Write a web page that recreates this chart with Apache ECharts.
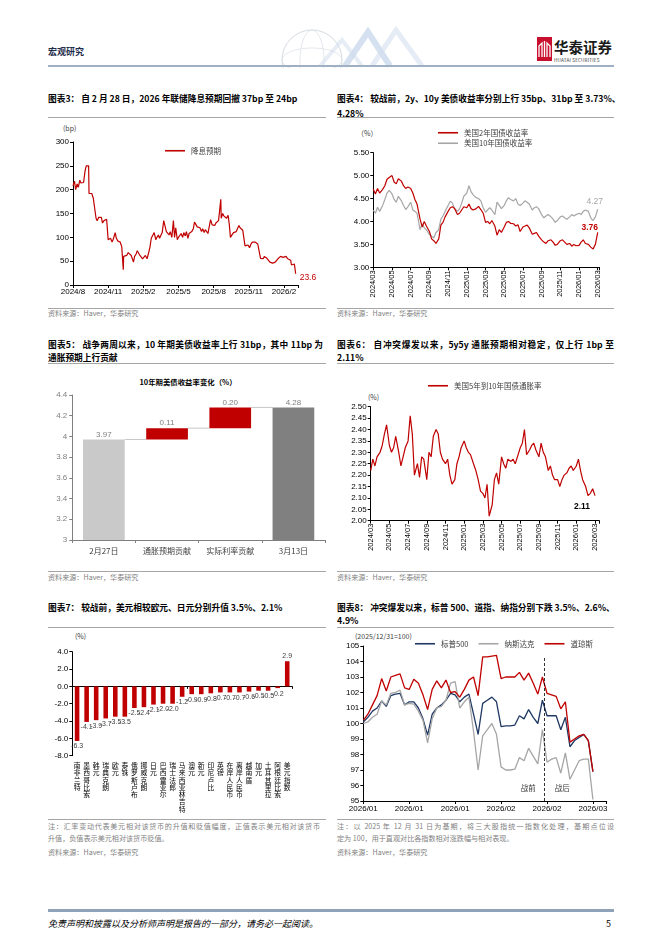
<!DOCTYPE html>
<html><head><meta charset="utf-8">
<script src="https://cdn.jsdelivr.net/npm/echarts@6/dist/echarts.min.js"></script>
<style>
html,body{margin:0;padding:0;background:#fff;}
body{width:662px;height:936px;position:relative;overflow:hidden;font-family:"Noto Sans CJK SC","Liberation Sans",sans-serif;}
.t{position:absolute;white-space:nowrap;line-height:13px;}
.ti{font-size:8.7px;font-weight:bold;color:#000;}
.j{text-align:justify;text-align-last:justify;}
.src{font-size:7.1px;color:#7f7f7f;line-height:10px;}
.unit{font-size:7px;color:#404040;line-height:10px;}
.hr{position:absolute;height:0;border-top:1px solid #a6a6a6;}
.c{position:absolute;}
</style></head><body>

<!-- header -->
<div class="t" style="left:48px;top:45px;font-size:9px;font-weight:bold;color:#1f2d4d;">宏观研究</div>
<svg style="position:absolute;left:250px;top:26px" width="200" height="42">
  <circle cx="62" cy="34" r="30" fill="none" stroke="#d5dbe2" stroke-width="1"/>
  <ellipse cx="62" cy="34" rx="30" ry="12" fill="none" stroke="#dde2e8" stroke-width="0.8"/>
  <ellipse cx="62" cy="34" rx="12" ry="30" fill="none" stroke="#dde2e8" stroke-width="0.8"/>
  <polyline points="95,40 118,6 140,40" fill="none" stroke="#b9cde6" stroke-width="6" opacity="0.6"/>
  <polyline points="122,40 146,4 172,40" fill="none" stroke="#d3e0ef" stroke-width="5" opacity="0.6"/>
  <polyline points="70,40 92,14 112,40" fill="none" stroke="#cfdcec" stroke-width="4" opacity="0.5"/>
</svg>
<svg style="position:absolute;left:537px;top:37px" width="16" height="25">
  <rect x="0" y="0" width="15" height="24" fill="#c8102e"/>
  <path d="M2 20 L2 9 L5 6 L5 20 M7.5 20 L7.5 4 M10 20 L10 6 L13 9 L13 20" stroke="#fff" stroke-width="1.3" fill="none"/>
</svg>
<div class="t" style="left:554px;top:38px;font-size:14.5px;font-weight:bold;color:#1a1a1a;line-height:18px;">华泰证券</div>
<div class="t" style="left:554px;top:57px;font-size:4.6px;color:#333;line-height:7px;letter-spacing:0.2px;">HUATAI SECURITIES</div>
<div class="hr" style="left:48px;width:566px;top:65px;border-top:2px solid #9fb0c3;"></div>

<!-- titles row 1 -->
<div class="t ti" style="left:48px;top:91.5px;">图表3： 自 2 月 28 日，2026 年联储降息预期回撤 37bp 至 24bp</div>
<div class="t ti j" style="left:337px;top:91.5px;width:277px;">图表4： 较战前，2y、10y 美债收益率分别上行 35bp、31bp 至 3.73%、</div>
<div class="t ti" style="left:337px;top:106.5px;">4.28%</div>
<div class="hr" style="left:48px;width:278px;top:117px;"></div>
<div class="hr" style="left:337px;width:277px;top:117px;"></div>

<div class="t unit" style="left:63px;top:123px;">(bp)</div>
<div class="t unit" style="left:357px;top:128px;">（%）</div>

<div class="hr" style="left:48px;width:278px;top:308px;"></div>
<div class="hr" style="left:337px;width:277px;top:308px;"></div>
<div class="t src" style="left:48px;top:308px;">资料来源：Haver，华泰研究</div>
<div class="t src" style="left:337px;top:308px;">资料来源：Haver，华泰研究</div>

<!-- titles row 2 -->
<div class="t ti j" style="left:48px;top:337.5px;width:275px;">图表5： 战争两周以来，10 年期美债收益率上行 31bp，其中 11bp 为</div>
<div class="t ti" style="left:48px;top:350.5px;">通胀预期上行贡献</div>
<div class="t ti j" style="left:337px;top:337.5px;width:277px;">图表6： 自冲突爆发以来，5y5y 通胀预期相对稳定，仅上行 1bp 至</div>
<div class="t ti" style="left:337px;top:350.5px;">2.11%</div>
<div class="hr" style="left:48px;width:278px;top:363px;"></div>
<div class="hr" style="left:337px;width:277px;top:363px;"></div>

<div class="t" style="left:188px;top:375px;font-size:7.4px;font-weight:bold;color:#000;transform:translateX(-50%);">10年期美债收益率变化（%）</div>
<div class="t unit" style="left:368px;top:392px;">(%)</div>

<div class="hr" style="left:48px;width:278px;top:571px;"></div>
<div class="hr" style="left:337px;width:277px;top:571px;"></div>
<div class="t src" style="left:48px;top:572px;">资料来源：Haver，华泰研究</div>
<div class="t src" style="left:337px;top:572px;">资料来源：Haver，华泰研究</div>

<!-- titles row 3 -->
<div class="t ti" style="left:48px;top:600.5px;">图表7： 较战前，美元相较欧元、日元分别升值 3.5%、2.1%</div>
<div class="t ti j" style="left:337px;top:600.5px;width:277px;">图表8： 冲突爆发以来，标普 500、道指、纳指分别下跌 3.5%、2.6%、</div>
<div class="t ti" style="left:337px;top:613.5px;">4.9%</div>
<div class="hr" style="left:48px;width:278px;top:627px;"></div>
<div class="hr" style="left:337px;width:277px;top:627px;"></div>

<div class="t unit" style="left:75px;top:631px;">(%)</div>
<div class="t unit" style="left:355px;top:631px;">(2025/12/31=100)</div>

<div class="hr" style="left:48px;width:278px;top:819px;"></div>
<div class="hr" style="left:337px;width:277px;top:819px;"></div>
<div class="t src j" style="left:48px;top:821px;width:272px;">注：汇率变动代表美元相对该货币的升值和贬值幅度，正值表示美元相对该货币</div>
<div class="t src" style="left:48px;top:833px;">升值，负值表示美元相对该货币贬值。</div>
<div class="t src" style="left:48px;top:847px;">资料来源：Haver，华泰研究</div>
<div class="t src j" style="left:337px;top:821px;width:277px;">注：以 2025 年 12 月 31 日为基期，将三大股指统一指数化处理，基期点位设</div>
<div class="t src" style="left:337px;top:833px;">定为 100，用于直观对比各指数相对涨跌幅与相对表现。</div>
<div class="t src" style="left:337px;top:847px;">资料来源：Haver，华泰研究</div>

<!-- footer -->
<div class="hr" style="left:48px;width:566px;top:909px;border-top:3px solid #8fa2b7;"></div>
<div class="t" style="left:48px;top:917px;font-size:9px;font-style:italic;color:#000;">免责声明和披露以及分析师声明是报告的一部分，请务必一起阅读。</div>
<div class="t" style="left:606px;top:917px;font-size:9px;color:#000;">5</div>

<div id="c3" class="c" style="left:40px;top:120px;width:290px;height:188px;"></div>
<div id="c4" class="c" style="left:330px;top:120px;width:290px;height:188px;"></div>
<div id="c5" class="c" style="left:40px;top:365px;width:290px;height:205px;"></div>
<div id="c6" class="c" style="left:330px;top:365px;width:290px;height:205px;"></div>
<div id="c7" class="c" style="left:40px;top:630px;width:290px;height:188px;"></div>
<div id="c8" class="c" style="left:330px;top:630px;width:290px;height:188px;"></div>

<script>
// ---------------- DATA ----------------
// Chart 3: Fed cut expectations (bp)
const fedTicks = ['2024/8','2024/11','2025/2','2025/5','2025/8','2025/11','2026/2'];
const fedCutPath = [
['2024-08-01',208],['2024-08-05',218],['2024-08-08',200],['2024-08-12',212],['2024-08-15',205],['2024-08-19',220],['2024-08-22',214],['2024-08-26',218],['2024-08-29',215],
['2024-09-02',240],['2024-09-05',250],['2024-09-09',247],['2024-09-11',250],['2024-09-12',192],['2024-09-16',188],['2024-09-19',192],['2024-09-23',182],['2024-09-26',178],
['2024-09-30',140],['2024-10-03',135],['2024-10-07',142],['2024-10-10',138],['2024-10-14',142],['2024-10-17',130],['2024-10-21',135],['2024-10-24',136],['2024-10-28',138],['2024-10-31',140],
['2024-11-01',95],['2024-11-04',92],['2024-11-07',98],['2024-11-11',90],['2024-11-14',96],['2024-11-19',110],['2024-11-22',98],['2024-11-26',92],
['2024-12-02',90],['2024-12-04',85],['2024-12-06',80],['2024-12-09',78],['2024-12-10',32],['2024-12-11',60],['2024-12-16',64],['2024-12-19',62],['2024-12-23',68],['2024-12-27',65],['2024-12-31',62],
['2025-01-03',58],['2025-01-06',48],['2025-01-09',60],['2025-01-13',65],['2025-01-16',72],['2025-01-20',68],['2025-01-23',62],['2025-01-27',60],['2025-01-30',55],
['2025-02-03',58],['2025-02-06',62],['2025-02-10',55],['2025-02-13',65],['2025-02-17',80],['2025-02-20',98],['2025-02-24',100],['2025-02-27',110],
['2025-03-03',95],['2025-03-06',100],['2025-03-10',105],['2025-03-13',98],['2025-03-17',102],['2025-03-20',110],['2025-03-24',135],['2025-03-27',132],['2025-03-31',112],
['2025-04-03',115],['2025-04-07',105],['2025-04-10',112],['2025-04-14',100],['2025-04-18',135],['2025-04-21',100],['2025-04-24',120],['2025-04-28',95],
['2025-05-01',100],['2025-05-05',96],['2025-05-08',108],['2025-05-12',100],['2025-05-15',110],['2025-05-19',103],['2025-05-22',112],['2025-05-26',98],['2025-05-29',108],
['2025-06-02',110],['2025-06-05',112],['2025-06-09',118],['2025-06-12',132],['2025-06-16',128],['2025-06-19',122],['2025-06-23',118],['2025-06-26',120],['2025-06-30',112],
['2025-07-03',118],['2025-07-07',110],['2025-07-10',116],['2025-07-14',112],['2025-07-17',108],['2025-07-21',125],['2025-07-24',137],['2025-07-28',126],['2025-07-31',128],
['2025-08-04',125],['2025-08-07',130],['2025-08-11',126],['2025-08-14',135],['2025-08-18',132],['2025-08-20',180],['2025-08-21',140],['2025-08-25',150],['2025-08-28',145],
['2025-09-01',148],['2025-09-04',140],['2025-09-08',146],['2025-09-11',128],['2025-09-14',100],['2025-09-18',105],['2025-09-22',110],['2025-09-25',106],['2025-09-29',112],
['2025-10-02',118],['2025-10-06',125],['2025-10-09',120],['2025-10-13',122],['2025-10-16',115],['2025-10-20',112],['2025-10-22',82],['2025-10-27',80],['2025-10-30',84],
['2025-11-03',78],['2025-11-06',85],['2025-11-10',90],['2025-11-13',92],['2025-11-17',90],['2025-11-20',88],['2025-11-24',86],['2025-11-28',85],
['2025-12-01',56],['2025-12-04',58],['2025-12-08',55],['2025-12-11',60],['2025-12-15',58],['2025-12-18',56],['2025-12-22',52],['2025-12-26',48],['2025-12-30',50],
['2026-01-02',46],['2026-01-06',45],['2026-01-09',48],['2026-01-13',50],['2026-01-16',55],['2026-01-20',58],['2026-01-23',60],['2026-01-27',62],['2026-01-30',58],
['2026-02-03',55],['2026-02-06',60],['2026-02-10',55],['2026-02-13',58],['2026-02-17',52],['2026-02-19',42],['2026-02-23',40],['2026-02-26',44],['2026-03-01',23.6]
];

// Charts 4 & 6: weekly observations, 2024/03 - 2026/03
const bondTicks = ['2024/03','2024/05','2024/07','2024/09','2024/11','2025/01','2025/03','2025/05','2025/07','2025/09','2025/11','2026/01','2026/03'];
const weeklyDays = [1, 8, 15, 22];
const ust2y = [
4.70,4.60,4.72,4.62, 4.70,4.78,4.92,4.96, 5.00,4.86,4.82,4.93, 4.88,4.78,4.72,4.75,
4.72,4.62,4.48,4.38, 4.05,3.88,4.00,3.90, 3.78,3.62,3.58,3.52, 3.62,3.92,3.98,4.10,
4.22,4.30,4.32,4.28, 4.15,4.18,4.25,4.32, 4.30,4.38,4.28,4.25, 4.28,4.33,4.26,4.18,
3.98,4.00,3.95,4.02, 3.90,3.70,3.82,3.76, 3.88,3.98,4.00,3.96, 3.95,3.90,3.93,3.78,
3.88,3.90,3.92,3.86, 3.72,3.74,3.76,3.68, 3.60,3.55,3.52,3.58, 3.60,3.55,3.48,3.50,
3.58,3.60,3.55,3.50, 3.52,3.46,3.50,3.47, 3.48,3.55,3.60,3.52, 3.50,3.44,3.40,3.50,
3.76];
const ust10y = [
4.25,4.18,4.31,4.22, 4.35,4.48,4.62,4.68, 4.60,4.48,4.42,4.55, 4.45,4.35,4.26,4.32,
4.42,4.25,4.22,4.18, 3.82,3.95,3.86,3.82, 3.72,3.68,3.64,3.76, 3.82,4.05,4.12,4.22,
4.35,4.44,4.40,4.28, 4.22,4.28,4.40,4.55, 4.62,4.78,4.65,4.58, 4.52,4.50,4.45,4.30,
4.20,4.25,4.30,4.25, 4.15,4.42,4.35,4.28, 4.35,4.45,4.52,4.48, 4.45,4.50,4.38,4.35,
4.40,4.45,4.42,4.38, 4.25,4.30,4.32,4.28, 4.15,4.08,4.12,4.15, 4.10,4.05,3.98,4.02,
4.10,4.12,4.08,4.05, 4.10,4.15,4.12,4.15, 4.18,4.15,4.22,4.25, 4.22,4.08,4.02,4.10,
4.27];
const be5y5y = [
2.22,2.27,2.24,2.28, 2.30,2.33,2.38,2.42, 2.33,2.30,2.32,2.37, 2.30,2.24,2.28,2.32,
2.35,2.46,2.38,2.20, 2.25,2.19,2.28,2.27, 2.18,2.30,2.28,2.37, 2.40,2.38,2.30,2.27,
2.25,2.27,2.20,2.16, 2.18,2.25,2.28,2.32, 2.35,2.32,2.30,2.29, 2.25,2.22,2.18,2.13,
2.12,2.10,2.16,2.02, 2.07,2.18,2.21,2.16, 2.28,2.25,2.23,2.27, 2.26,2.27,2.25,2.28,
2.32,2.34,2.40,2.29, 2.31,2.33,2.34,2.31, 2.28,2.34,2.30,2.28, 2.22,2.24,2.20,2.18,
2.18,2.15,2.18,2.20, 2.21,2.23,2.24,2.22, 2.24,2.27,2.22,2.18, 2.15,2.11,2.12,2.14,
2.11];

// Chart 5: waterfall
const wfCats = ['2月27日','通胀预期贡献','实际利率贡献','3月13日'];
const wfValues = [3.97, 0.11, 0.20, 4.28];
const wfColors = ['#c9c9c9','#c00000','#c00000','#808080'];

// Chart 7: USD vs currencies (%)
const fxCats = ['南非兰特','墨西哥比索','韩元','瑞典克朗','欧元','泰铢','俄罗斯卢布','挪威克朗','日元','巴西雷亚尔','瑞士法郎','马来西亚林吉特','澳元','新元','印尼卢比','英镑','在岸人民币','离岸人民币','越南盾','加元','土耳其里拉','阿根廷比索','美元指数'];
const fxChange = [-6.3,-4.1,-3.9,-3.7,-3.5,-3.5,-2.5,-2.4,-2.1,-2.0,-2.0,-1.2,-0.9,-0.9,-0.8,-0.7,-0.7,-0.7,-0.6,-0.5,-0.5,-0.2,2.9];

// Chart 8: equity indices (2025/12/31=100), trading sessions
const eqTicks = ['2026/01','2026/01','2026/01','2026/02','2026/02','2026/03'];
const spx = [100.1,100.4,100.8,101.0,101.45,101.1,101.8,101.9,101.95,101.2,
101.4,101.4,101.0,100.3,99.25,100.6,101.0,101.2,101.5,101.95,
101.85,101.4,101.7,101.9,100.6,99.3,101.3,101.5,101.7,101.4,
99.8,99.85,99.85,99.9,100.5,100.3,100.9,100.4,100.0,101.5,
100.5,100.5,100.5,99.6,100.4,98.5,98.9,99.1,99.3,98.9,96.9];
const ndx = [100.0,100.1,100.4,100.6,101.45,101.2,101.95,102.0,102.15,101.2,
101.3,101.25,100.8,100.2,98.75,100.3,101.0,101.1,101.5,102.6,
102.7,101.0,101.4,101.7,99.5,97.0,99.2,99.6,100.0,99.3,
97.2,97.0,97.0,97.05,97.8,97.6,98.4,97.9,97.4,99.6,
97.5,97.7,97.8,96.8,98.1,96.4,97.0,97.6,97.7,97.7,95.1];
const dji = [100.2,100.6,101.2,101.8,102.9,102.1,103.0,103.1,103.2,102.3,
102.2,102.85,102.6,101.85,100.9,102.2,102.75,102.3,102.8,102.0,
102.05,101.7,102.2,102.8,103.0,101.8,104.3,104.3,104.35,104.4,
102.9,103.0,103.0,103.0,103.3,102.8,103.25,102.6,101.9,103.0,
101.95,101.85,101.75,100.95,101.4,98.8,99.0,99.2,99.3,98.9,96.9];
const warMarker = 39.5;   // session position between 2/27 and 3/2

// ---------------- HELPERS ----------------
const FONT = '"Liberation Sans","Noto Sans CJK SC",sans-serif';
const CJK = '"Noto Sans CJK SC",sans-serif';
function monthIndex(d, y0, m0) {
  const [y, m, dd] = d.split('-').map(Number);
  const dim = new Date(y, m, 0).getDate();
  return (y - y0) * 12 + (m - m0) + (dd - 1) / dim;
}
function buildWeeks() {
  const out = [];
  for (let k = 0; k < 24; k++) {
    const y = 2024 + Math.floor((2 + k) / 12), m = (2 + k) % 12 + 1;
    weeklyDays.forEach(d => out.push(`${y}-${String(m).padStart(2,'0')}-${String(d).padStart(2,'0')}`));
  }
  out.push('2026-03-01');
  return out;
}
const weeks = buildWeeks();
function tickLabel(arr, step) {
  return v => { const q = v / step; return Math.abs(q - Math.round(q)) < 1e-6 ? (arr[Math.round(q)] || '') : ''; };
}
function lastPointLabel(points, label) {
  const last = points[points.length - 1];
  return { silent: true, symbol: 'circle', symbolSize: 0, animation: false,
    data: [{ coord: last, value: last[1] }],
    label: Object.assign({ show: true }, label) };
}
const axLine = { show: true, lineStyle: { color: '#000', width: 1 } };
const axTick = { show: true, length: 3, lineStyle: { color: '#000' } };
const legendBase = { padding: 0, icon: 'rect', itemWidth: 20, itemHeight: 1.6, textStyle: { fontSize: 7.5, color: '#404040', fontFamily: CJK, padding: [0, 0, 0, 1] } };

// ---------------- CHART 3 ----------------
const c3 = echarts.init(document.getElementById('c3'));
const pts3 = fedCutPath.map(([d, v]) => [monthIndex(d, 2024, 8), v]);
c3.setOption({
  animation: false, textStyle: { fontFamily: FONT },
  grid: { left: 33, top: 22, width: 225, height: 143 },
  legend: Object.assign({ left: 125, top: 27, data: ['降息预期'] }, legendBase),
  xAxis: { type: 'value', min: 0, max: 19.2, interval: 3, splitLine: { show: false }, axisLine: axLine, axisTick: axTick,
    axisLabel: { fontSize: 8, color: '#000', margin: 3, formatter: tickLabel(fedTicks, 3) } },
  yAxis: { type: 'value', min: 0, max: 300, interval: 50, splitLine: { show: false }, axisLine: axLine, axisTick: axTick,
    axisLabel: { fontSize: 8, color: '#000', margin: 4 } },
  series: [{ name: '降息预期', type: 'line', symbol: 'none', lineStyle: { color: '#c00000', width: 1.2 }, itemStyle: { color: '#c00000' },
    data: pts3,
    markPoint: lastPointLabel(pts3, { position: 'right', distance: 4, offset: [0, 4], color: '#c00000', fontSize: 8.5, formatter: p => p.value.toFixed(1) }) }]
});

// ---------------- CHART 4 ----------------
const c4 = echarts.init(document.getElementById('c4'));
const x4 = weeks.map(d => monthIndex(d, 2024, 3));
const pts10 = x4.map((x, i) => [x, ust10y[i]]);
const pts2 = x4.map((x, i) => [x, ust2y[i]]);
c4.setOption({
  animation: false, textStyle: { fontFamily: FONT },
  grid: { left: 43.3, top: 32.7, width: 226.3, height: 114.6 },
  legend: Object.assign({ left: 108, top: 9, orient: 'vertical', itemGap: 3, data: ['美国2年国债收益率', '美国10年国债收益率'] }, legendBase),
  xAxis: { type: 'value', min: 0, max: 24.2, interval: 2, splitLine: { show: false }, axisLine: axLine, axisTick: axTick,
    axisLabel: { rotate: 90, fontSize: 7.5, color: '#000', margin: 3, formatter: tickLabel(bondTicks, 2) } },
  yAxis: { type: 'value', min: 3, max: 5.5, interval: 0.5, splitLine: { show: false }, axisLine: axLine, axisTick: axTick,
    axisLabel: { fontSize: 8, color: '#000', margin: 4, formatter: v => v.toFixed(2) } },
  series: [
    { name: '美国10年国债收益率', type: 'line', symbol: 'none', lineStyle: { color: '#a6a6a6', width: 1.2 }, itemStyle: { color: '#a6a6a6' }, z: 2,
      data: pts10,
      markPoint: lastPointLabel(pts10, { position: 'top', distance: 3, offset: [-3, 0], color: '#a6a6a6', fontSize: 8.5, formatter: p => p.value.toFixed(2) }) },
    { name: '美国2年国债收益率', type: 'line', symbol: 'none', lineStyle: { color: '#c00000', width: 1.2 }, itemStyle: { color: '#c00000' }, z: 3,
      data: pts2,
      markPoint: lastPointLabel(pts2, { position: 'top', distance: 1, offset: [-8, 0], color: '#c00000', fontWeight: 'bold', fontSize: 8.5, formatter: p => p.value.toFixed(2) }) }
  ]
});

// ---------------- CHART 5 ----------------
const c5 = echarts.init(document.getElementById('c5'));
const wfBase = [], wfShown = [], wfLevels = [];
let run = 0;
wfValues.forEach((v, i) => {
  const isTotal = i === 0 || i === wfValues.length - 1;
  wfBase.push(isTotal ? 0 : run);
  wfShown.push({ value: v, itemStyle: { color: wfColors[i] } });
  run = isTotal ? v : run + v;
  wfLevels.push(run);
});
c5.setOption({
  animation: false, textStyle: { fontFamily: FONT },
  grid: { left: 32.3, top: 30, width: 252.7, height: 145 },
  xAxis: { type: 'category', data: wfCats, axisLine: { show: true, lineStyle: { color: '#7f7f7f' } }, axisTick: { show: true, length: 3, lineStyle: { color: '#7f7f7f' } },
    axisLabel: { fontSize: 8, color: '#404040', margin: 7, fontFamily: CJK } },
  yAxis: { type: 'value', min: 3, max: 4.4, interval: 0.2, splitLine: { show: false }, axisLine: { show: true, lineStyle: { color: '#7f7f7f' } }, axisTick: { show: true, length: 3, lineStyle: { color: '#7f7f7f' } },
    axisLabel: { fontSize: 8, color: '#7f7f7f', margin: 5, formatter: v => String(+v.toFixed(1)) } },
  series: [
    { type: 'bar', stack: 'wf', data: wfBase, itemStyle: { color: 'transparent' }, barWidth: '66%', silent: true },
    { type: 'bar', stack: 'wf', data: wfShown, barWidth: '66%',
      label: { show: true, position: 'top', distance: 1, fontSize: 8, color: '#7f7f7f', formatter: p => wfValues[p.dataIndex].toFixed(2) } },
    { type: 'custom', data: wfLevels.slice(0, -1).map((l, i) => [i, l]), z: 1,
      renderItem: (params, api) => {
        const i = api.value(0), lvl = api.value(1);
        const p1 = api.coord([i, lvl]), p2 = api.coord([i + 1, lvl]);
        const hw = api.size([1, 0])[0] * 0.33;
        return { type: 'line', shape: { x1: p1[0] + hw, y1: p1[1], x2: p2[0] - hw, y2: p2[1] }, style: { stroke: '#c8c8c8', lineWidth: 1 } };
      } }
  ]
});

// ---------------- CHART 6 ----------------
const c6 = echarts.init(document.getElementById('c6'));
const pts6 = x4.map((x, i) => [x, be5y5y[i]]);
c6.setOption({
  animation: false, textStyle: { fontFamily: FONT },
  grid: { left: 40.7, top: 41.7, width: 228.6, height: 114 },
  legend: Object.assign({ left: 98, top: 17, data: ['美国5年到10年国债通胀率'] }, legendBase),
  xAxis: { type: 'value', min: 0, max: 24.46, interval: 2, splitLine: { show: false }, axisLine: axLine, axisTick: axTick,
    axisLabel: { rotate: 90, fontSize: 7.5, color: '#000', margin: 3, formatter: tickLabel(bondTicks, 2) } },
  yAxis: { type: 'value', min: 2, max: 2.5, interval: 0.05, splitLine: { show: false }, axisLine: axLine, axisTick: axTick,
    axisLabel: { fontSize: 8, color: '#000', margin: 4, formatter: v => v.toFixed(2) } },
  series: [{ name: '美国5年到10年国债通胀率', type: 'line', symbol: 'none', lineStyle: { color: '#c00000', width: 1.2 }, itemStyle: { color: '#c00000' },
    data: pts6,
    markPoint: lastPointLabel(pts6, { position: 'bottom', distance: 5, offset: [-13, 2], color: '#000', fontWeight: 'bold', fontSize: 8.5, formatter: p => p.value.toFixed(2) }) }]
});

// ---------------- CHART 7 ----------------
const c7 = echarts.init(document.getElementById('c7'));
c7.setOption({
  animation: false, textStyle: { fontFamily: FONT },
  grid: { left: 32.3, top: 21.7, width: 219.7, height: 104 },
  xAxis: { type: 'category', data: fxCats, axisLine: { show: true, onZero: true, lineStyle: { color: '#000' } }, axisTick: { show: true, length: 2.5, lineStyle: { color: '#000' } }, axisLabel: { show: false } },
  yAxis: { type: 'value', min: -8, max: 4, interval: 2, splitLine: { show: false }, axisLine: axLine, axisTick: axTick,
    axisLabel: { fontSize: 8, color: '#000', margin: 4, formatter: v => v.toFixed(1) } },
  series: [{ type: 'bar', barWidth: '48%', itemStyle: { color: '#c00000' },
    data: fxChange.map(v => ({ value: v, label: { show: true, position: v < 0 ? 'bottom' : 'top', distance: 2, fontSize: 7, color: '#404040', formatter: p => p.value.toFixed(1) } })) }]
});
// vertical (stacked-character) category labels under the plot, positioned from the category axis
const labelTop7 = c7.convertToPixel({ yAxisIndex: 0 }, -8) + 6;
c7.setOption({ graphic: fxCats.map((name, i) => ({
  type: 'text', silent: true,
  x: c7.convertToPixel({ xAxisIndex: 0 }, i), y: labelTop7,
  style: { text: name.split('').join('\n'), align: 'center', verticalAlign: 'top', fontSize: 6.8, lineHeight: 7.3, fill: '#000', fontFamily: CJK }
})) });

// ---------------- CHART 8 ----------------
const c8 = echarts.init(document.getElementById('c8'));
const sess = spx.map((_, i) => i);
c8.setOption({
  animation: false, textStyle: { fontFamily: FONT },
  grid: { left: 33.3, top: 16, width: 243.4, height: 155 },
  legend: Object.assign({ left: 85, top: 10, itemGap: 10, data: ['标普500', '纳斯达克', '道琼斯'] }, legendBase),
  xAxis: { type: 'value', min: 0, max: 53, interval: 10, splitLine: { show: false }, axisLine: axLine, axisTick: axTick,
    axisLabel: { fontSize: 8, color: '#000', margin: 4, formatter: tickLabel(eqTicks, 10) } },
  yAxis: { type: 'value', min: 95, max: 105, interval: 1, splitLine: { show: false }, axisLine: axLine, axisTick: axTick,
    axisLabel: { fontSize: 8, color: '#000', margin: 4 } },
  series: [
    { name: '标普500', type: 'line', symbol: 'none', lineStyle: { color: '#1f3864', width: 1.3 }, itemStyle: { color: '#1f3864' },
      data: sess.map(i => [i, spx[i]]),
      markLine: { silent: true, symbol: 'none', label: { show: false }, lineStyle: { color: '#000', type: [3, 2], width: 0.8 },
        data: [[{ coord: [warMarker, 95] }, { coord: [warMarker, 104.3] }]] } },
    { name: '纳斯达克', type: 'line', symbol: 'none', lineStyle: { color: '#a6a6a6', width: 1.3 }, itemStyle: { color: '#a6a6a6' },
      data: sess.map(i => [i, ndx[i]]) },
    { name: '道琼斯', type: 'line', symbol: 'none', lineStyle: { color: '#c00000', width: 1.3 }, itemStyle: { color: '#c00000' },
      data: sess.map(i => [i, dji[i]]) }
  ]
});
const wp = c8.convertToPixel({ gridIndex: 0 }, [warMarker, 95.8]);
c8.setOption({ graphic: [
  { type: 'text', x: wp[0] - 9, y: wp[1], style: { text: '战前', align: 'right', verticalAlign: 'middle', fontSize: 7.5, fill: '#404040', fontFamily: CJK } },
  { type: 'text', x: wp[0] + 10, y: wp[1], style: { text: '战后', align: 'left', verticalAlign: 'middle', fontSize: 7.5, fill: '#404040', fontFamily: CJK } }
] });
</script>
</body></html>
